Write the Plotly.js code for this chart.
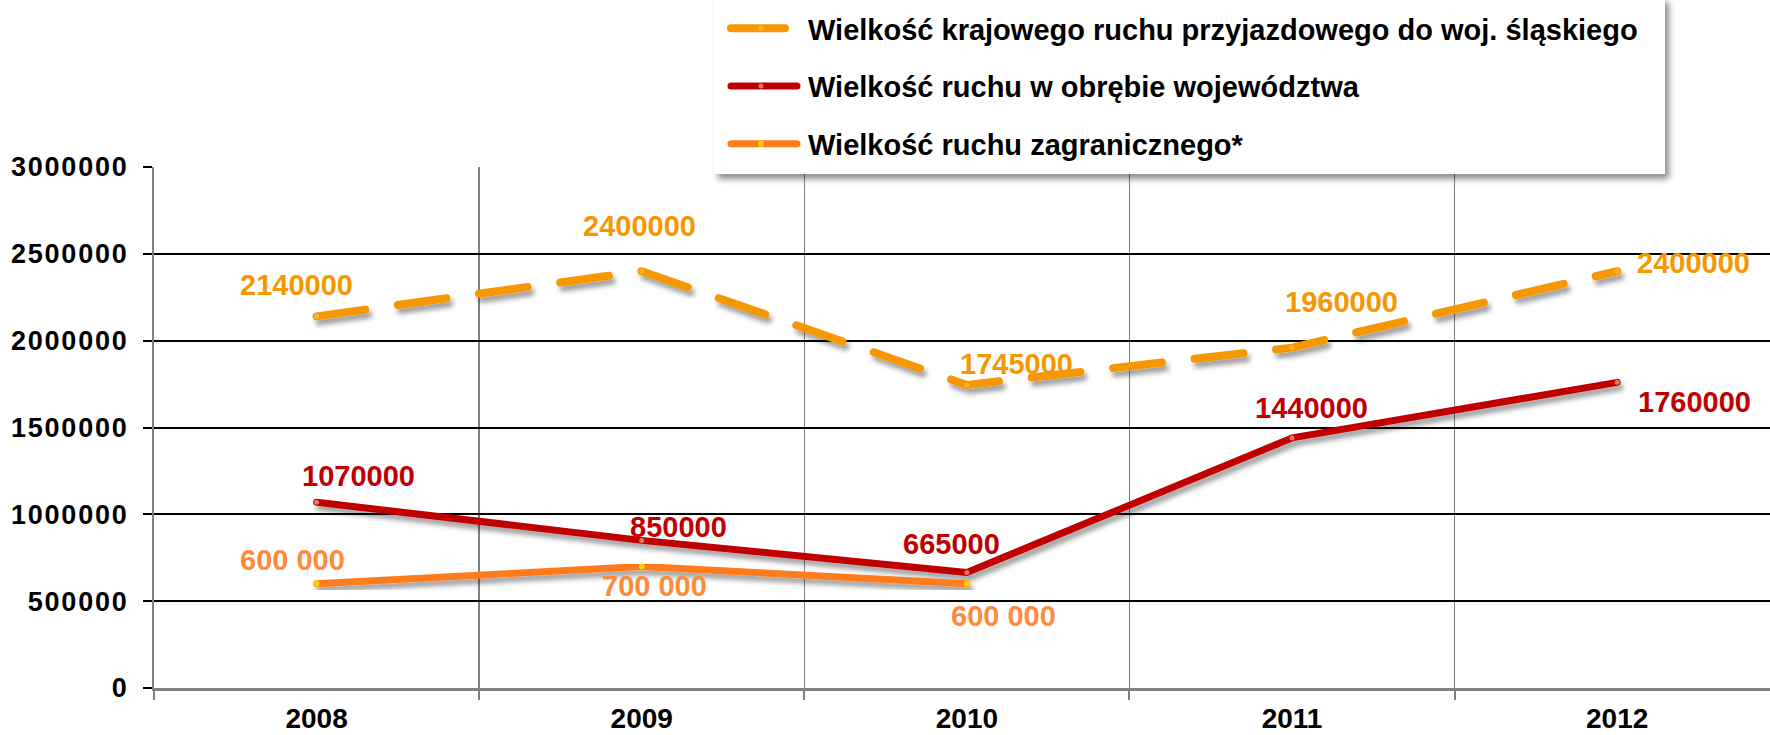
<!DOCTYPE html>
<html>
<head>
<meta charset="utf-8">
<script src="https://cdn.plot.ly/plotly-3.0.1.min.js"></script>
<style>
  html, body { margin: 0; padding: 0; background: #fff; }
  #chart { width: 1770px; height: 735px; }
  .scatterlayer .js-line { filter: url(#lineShadow); stroke-linecap: round; stroke-linejoin: round; }
  .legend .js-line { stroke-linecap: round; stroke-dasharray: 66px 400px !important; stroke-dashoffset: -12px; }
  .legend .js-line.first-sample { stroke-dasharray: 54px 400px !important; }
  .legend .bg { filter: url(#boxShadow); }
  .ytick text { letter-spacing: 1.8px; }
</style>
</head>
<body>
<svg width="0" height="0" style="position:absolute">
  <defs>
    <filter id="lineShadow" x="-10%" y="-10%" width="130%" height="140%">
      <feDropShadow dx="3" dy="5" stdDeviation="2.5" flood-color="#000" flood-opacity="0.38"/>
    </filter>
    <filter id="boxShadow" x="-5%" y="-10%" width="115%" height="130%">
      <feDropShadow dx="4" dy="5" stdDeviation="3" flood-color="#000" flood-opacity="0.45"/>
    </filter>
  </defs>
</svg>
<div id="chart"></div>
<script>
// ---- data ----
const years = ['2008', '2009', '2010', '2011', '2012'];
const seriesNames = [
  'Wielkość krajowego ruchu przyjazdowego do woj. śląskiego',
  'Wielkość ruchu w obrębie województwa',
  'Wielkość ruchu zagranicznego*'
];
const krajowy = [2140000, 2400000, 1745000, 1960000, 2400000];
const wojewodztwo = [1070000, 850000, 665000, 1440000, 1760000];
const zagraniczny = [600000, 700000, 600000];
const zagranicznyLabels = ['600 000', '700 000', '600 000'];
const yTicks = [0, 500000, 1000000, 1500000, 2000000, 2500000, 3000000];

// ---- styling (label offsets in px) ----
const colors = ['#F59700', '#C00000', '#FF7B1C'];
const labelColors = ['#F59700', '#C00000', '#FF8A3A'];
const markerColors = ['#FBB535', '#E8785A', '#FFD200'];
const off1 = [[-20, -31], [-2, -45], [50, -21], [49, -46], [76, -8]];
const off2 = [[42, -26], [37, -13], [-15, -29], [19, -30], [77, 20]];
const off3 = [[-24, -24], [13, 20], [37, 32]];

const xs3 = years.slice(0, zagraniczny.length);

const traces = [
  { x: years, y: krajowy, name: seriesNames[0], type: 'scatter', mode: 'lines+markers',
    line: { color: colors[0], width: 8, dash: '49px,33px' },
    marker: { color: markerColors[0], size: 5 }, legendgroup: 'a' },
  { x: years, y: wojewodztwo, name: seriesNames[1], type: 'scatter', mode: 'lines+markers',
    line: { color: colors[1], width: 7 },
    marker: { color: markerColors[1], size: 5 }, legendgroup: 'b' },
  { x: xs3, y: zagraniczny, name: seriesNames[2], type: 'scatter', mode: 'lines+markers',
    line: { color: colors[2], width: 7 },
    marker: { color: markerColors[2], size: 6 }, legendgroup: 'c' }
];

const labelFont = (c) => ({ family: 'Liberation Sans, Arial, sans-serif', size: 29, color: c, weight: 'bold' });
const annotations = [];
years.forEach((yr, i) => {
  annotations.push({ x: i, y: krajowy[i], text: String(krajowy[i]), showarrow: false,
    xshift: off1[i][0], yshift: -off1[i][1], font: labelFont(labelColors[0]) });
  annotations.push({ x: i, y: wojewodztwo[i], text: String(wojewodztwo[i]), showarrow: false,
    xshift: off2[i][0], yshift: -off2[i][1], font: labelFont(labelColors[1]) });
});
xs3.forEach((yr, i) => {
  annotations.push({ x: i, y: zagraniczny[i], text: zagranicznyLabels[i], showarrow: false,
    xshift: off3[i][0], yshift: -off3[i][1], font: labelFont(labelColors[2]) });
});

const layout = {
  width: 1770, height: 735,
  margin: { l: 154, r: 0, t: 167, b: 47, pad: 0, autoexpand: false },
  paper_bgcolor: '#fff', plot_bgcolor: '#fff',
  font: { family: 'Liberation Sans, Arial, sans-serif', color: '#000' },
  xaxis: {
    type: 'category', range: [-0.5, 4.47], tickangle: 0,
    tickson: 'boundaries', showgrid: true, gridcolor: '#808080', gridwidth: 1.5,
    ticks: 'outside', ticklen: 9, tickcolor: '#808080', tickwidth: 2,
    showline: true, linecolor: '#808080', linewidth: 2.5,
    tickfont: { size: 28, weight: 'bold', color: '#000' },
    ticklabelstandoff: 4,
    fixedrange: true
  },
  yaxis: {
    range: [0, 3000000], tickvals: yTicks, tickformat: 'd',
    showgrid: true, gridcolor: '#000', gridwidth: 2,
    zeroline: false,
    ticks: 'outside', ticklen: 9, tickcolor: '#000', tickwidth: 2,
    showline: true, linecolor: '#808080', linewidth: 2,
    tickfont: { size: 27, weight: 'bold', color: '#000' },
    ticklabelstandoff: 9,
    fixedrange: true
  },
  showlegend: true,
  legend: {
    xref: 'container', yref: 'container', x: 714 / 1770, y: 1 - 3 / 735, xanchor: 'left', yanchor: 'top',
    bgcolor: '#fff', borderwidth: 0, traceorder: 'grouped', tracegroupgap: 17,
    font: { size: 29, weight: 'bold', color: '#000' },
    itemwidth: 84
  },
  annotations: annotations
};

Plotly.newPlot('chart', traces, layout, { displayModeBar: false, staticPlot: true }).then(() => {
  // widen the legend box on the right and extend it to the top edge, like the original
  document.querySelectorAll('.legend .bg').forEach(r => {
    const w = parseFloat(r.getAttribute('width'));
    const h = parseFloat(r.getAttribute('height'));
    const y = parseFloat(r.getAttribute('y') || 0);
    r.setAttribute('width', w + 22);
    r.setAttribute('y', y - 6);
    r.setAttribute('height', h + 10);
  });
  // the first legend sample is a little shorter in the original
  const firstLine = document.querySelector('.legend .traces .js-line');
  if (firstLine) firstLine.classList.add('first-sample');
});
</script>
</body>
</html>
